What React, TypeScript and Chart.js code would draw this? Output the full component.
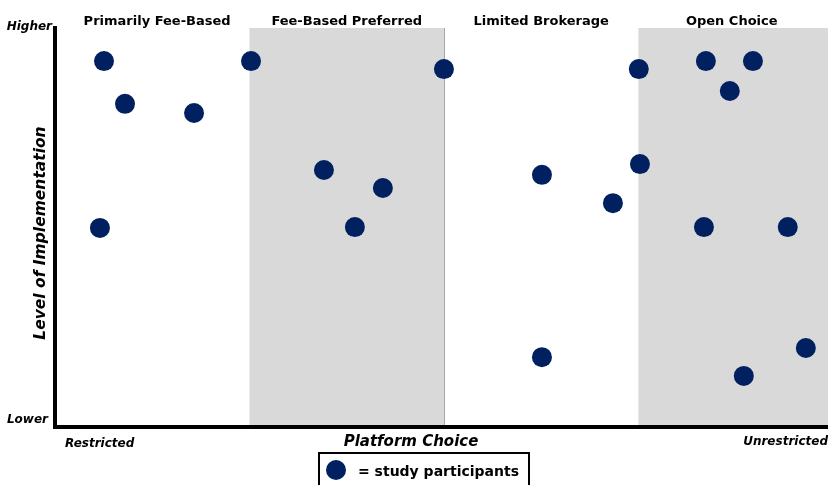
import React, { useEffect, useRef } from "react";
import { Chart, registerables } from "chart.js";

Chart.register(...registerables);

// Sections (x from 0 to 4, one unit per section)
const sections = ["Primarily Fee-Based", "Fee-Based Preferred", "Limited Brokerage", "Open Choice"];
const shadedSections = [1, 3];
const headerCenters = [0.525, 1.5, 2.5, 3.48];

// Study participants: platform choice (x) and level of implementation (y, 0-100)
const xValues = [0.252, 0.36, 0.715, 0.231, 1.008, 1.383, 1.686, 1.542, 2.0, 2.504, 2.869, 2.504, 3.002, 3.008, 3.347, 3.589, 3.47, 3.337, 3.768, 3.861, 3.542];
const yValues = [91.7, 81.0, 78.7, 49.9, 91.7, 64.4, 59.9, 50.1, 89.7, 63.2, 56.1, 17.5, 89.7, 65.9, 91.7, 91.7, 84.2, 50.1, 50.1, 19.8, 12.8];

const xTitle = "Platform Choice";
const yTitle = "Level of Implementation";
const yHigh = "Higher";
const yLow = "Lower";
const xLow = "Restricted";
const xHigh = "Unrestricted";
const legendLabel = "= study participants";

const NAVY = "#002060";
const FONT = "'DejaVu Sans', Verdana, sans-serif";

export default function App() {
  const ref = useRef<HTMLCanvasElement | null>(null);

  useEffect(() => {
    const canvas = ref.current;
    if (!canvas) return;

    const bands = {
      id: "bands",
      beforeDraw(chart: any) {
        const { ctx, chartArea, scales } = chart;
        const x = scales.x;
        ctx.save();
        ctx.fillStyle = "#ffffff";
        ctx.fillRect(0, 0, chart.width, chart.height);
        ctx.fillStyle = "#d9d9d9";
        for (const s of shadedSections) {
          const x0 = x.getPixelForValue(s);
          const x1 = Math.min(x.getPixelForValue(s + 1), chartArea.right);
          ctx.fillRect(x0, chartArea.top, x1 - x0, chartArea.bottom - chartArea.top);
        }
        ctx.strokeStyle = "#a6a6a6";
        ctx.lineWidth = 1;
        const xs = Math.round(x.getPixelForValue(2)) + 0.5;
        ctx.beginPath();
        ctx.moveTo(xs, chartArea.top);
        ctx.lineTo(xs, chartArea.bottom);
        ctx.stroke();
        ctx.restore();
      },
    };

    const labels = {
      id: "labels",
      afterDraw(chart: any) {
        const { ctx, scales } = chart;
        const x = scales.x;
        ctx.save();
        ctx.fillStyle = "#000";
        ctx.textBaseline = "alphabetic";
        // section headers
        ctx.font = `bold 13px ${FONT}`;
        ctx.textAlign = "center";
        sections.forEach((s, i) => {
          ctx.fillText(s, x.getPixelForValue(headerCenters[i]), 25);
        });
        // y end labels
        ctx.font = `italic bold 12px ${FONT}`;
        ctx.textAlign = "right";
        ctx.fillText(yHigh, 52, 30);
        ctx.fillText(yLow, 48, 423);
        // x end labels
        ctx.textAlign = "left";
        ctx.fillText(xLow, 65, 447);
        ctx.textAlign = "right";
        ctx.fillText(xHigh, 828, 445);
        // axis titles
        ctx.font = `italic bold 15px ${FONT}`;
        ctx.textAlign = "center";
        ctx.fillText(xTitle, 411, 446);
        ctx.save();
        ctx.font = `italic bold 15.5px ${FONT}`;
        ctx.translate(45, 233);
        ctx.rotate(-Math.PI / 2);
        ctx.fillText(yTitle, 0, 0);
        ctx.restore();
        // legend
        ctx.strokeStyle = "#000";
        ctx.lineWidth = 2;
        ctx.strokeRect(319, 453, 210, 40);
        ctx.fillStyle = NAVY;
        ctx.beginPath();
        ctx.arc(336, 470, 10, 0, Math.PI * 2);
        ctx.fill();
        ctx.fillStyle = "#000";
        ctx.font = `bold 14px ${FONT}`;
        ctx.textAlign = "left";
        ctx.fillText(legendLabel, 358, 476);
        ctx.restore();
      },
    };

    const chart = new Chart(canvas, {
      type: "scatter",
      data: {
        datasets: [
          {
            label: "study participants",
            data: xValues.map((v, i) => ({ x: v, y: yValues[i] })),
            backgroundColor: NAVY,
            borderColor: NAVY,
            borderWidth: 0,
            pointRadius: 10,
            pointHoverRadius: 10,
          },
        ],
      },
      options: {
        responsive: false,
        animation: false,
        devicePixelRatio: 1,
        layout: { autoPadding: false, padding: { left: 55, top: 28, right: 0, bottom: 58 } },
        plugins: { legend: { display: false }, tooltip: { enabled: false } },
        scales: {
          x: {
            type: "linear",
            min: 0,
            max: 3.975,
            ticks: { display: false },
            grid: { display: false, drawTicks: false },
            border: { display: true, color: "#000", width: 4 },
          },
          y: {
            type: "linear",
            min: 0,
            max: 100,
            ticks: { display: false },
            grid: { display: false, drawTicks: false },
            border: { display: true, color: "#000", width: 4 },
          },
        },
      },
      plugins: [bands, labels],
    });
    return () => chart.destroy();
  }, []);

  return (
    <div style={{ position: "absolute", left: 0, top: 0, width: 828, height: 485 }}>
      <canvas ref={ref} width={828} height={485} />
    </div>
  );
}
